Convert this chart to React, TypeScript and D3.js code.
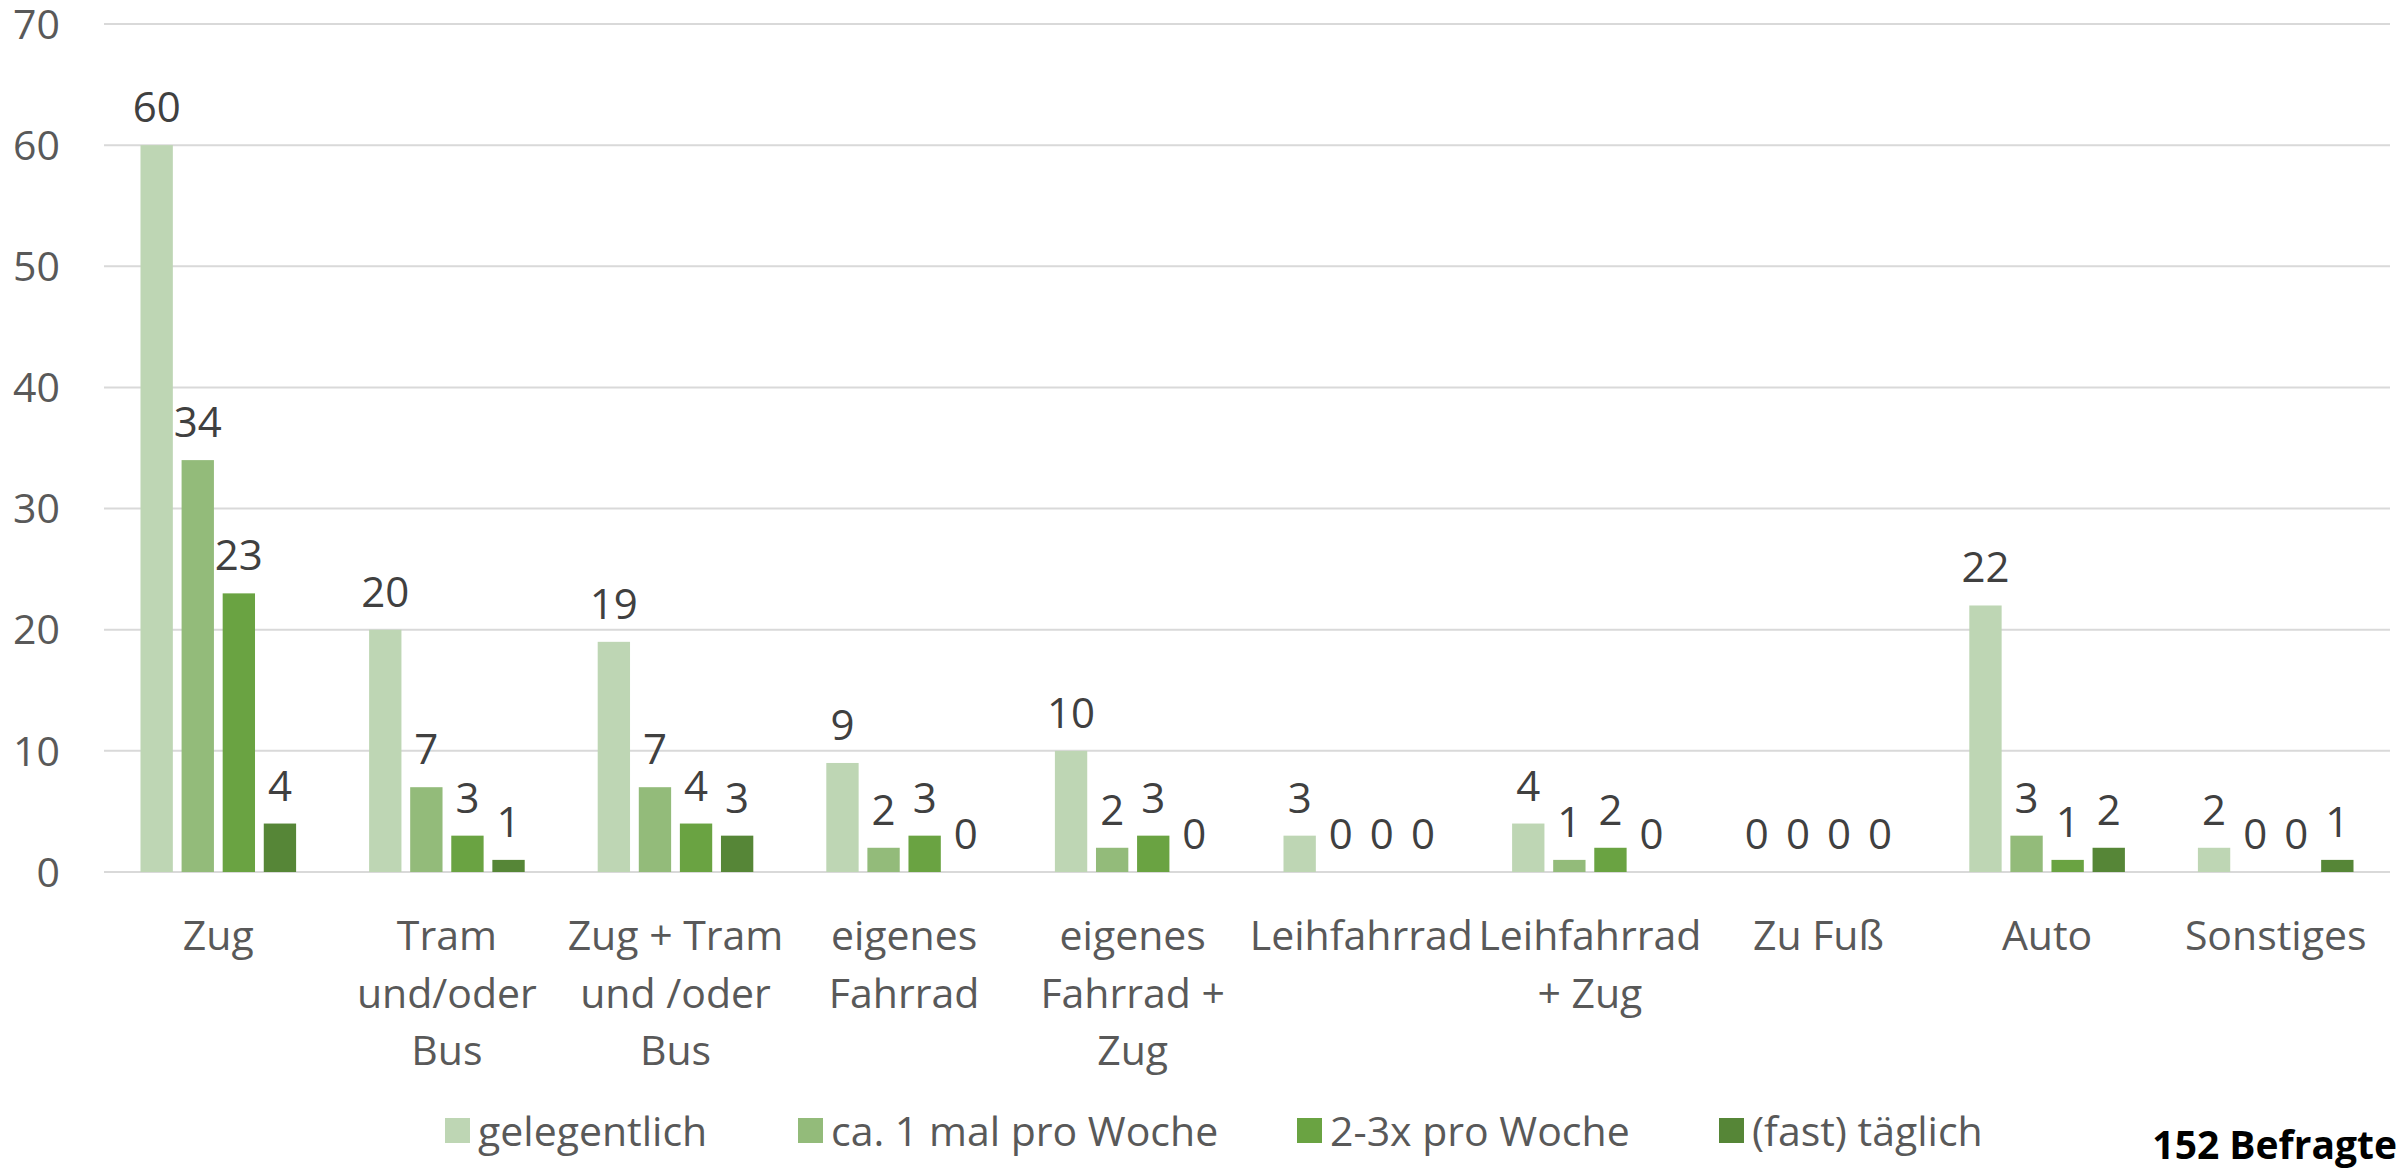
import React from "react";
import * as d3 from "d3";

const categories = [
  ["Zug"],
  ["Tram", "und/oder", "Bus"],
  ["Zug + Tram", "und /oder", "Bus"],
  ["eigenes", "Fahrrad"],
  ["eigenes", "Fahrrad +", "Zug"],
  ["Leihfahrrad"],
  ["Leihfahrrad", "+ Zug"],
  ["Zu Fuß"],
  ["Auto"],
  ["Sonstiges"],
];
const seriesNames = ["gelegentlich", "ca. 1 mal pro Woche", "2-3x pro Woche", "(fast) täglich"];
const gelegentlich = [60, 20, 19, 9, 10, 3, 4, 0, 22, 2];
const einmalProWoche = [34, 7, 7, 2, 2, 0, 1, 0, 3, 0];
const zweiDreiProWoche = [23, 3, 4, 3, 3, 0, 2, 0, 1, 0];
const fastTaeglich = [4, 1, 3, 0, 0, 0, 0, 0, 2, 1];
const yTicks = [0, 10, 20, 30, 40, 50, 60, 70];
const colors = ["#BED6B4", "#93BB7A", "#6AA342", "#568637"];
const note = "152 Befragte";

const W = 2407;
const H = 1170;
const FONT = "'Open Sans', 'Noto Sans', sans-serif";

export default function App() {
  const series = [gelegentlich, einmalProWoche, zweiDreiProWoche, fastTaeglich];
  const left = 104;
  const right = 2390;
  const x0 = d3.scaleBand<number>().domain(d3.range(categories.length)).range([left, right]).padding(0);
  const gw = x0.bandwidth();
  const x1 = d3
    .scaleBand<number>()
    .domain(d3.range(series.length))
    .range([36.5, gw - 36.5])
    .paddingInner(0.213)
    .paddingOuter(0);
  const y = d3.scaleLinear().domain([0, 70]).range([872, 24]);

  const legendX = [445, 798, 1297, 1719];

  return (
    <svg
      width={W}
      height={H}
      style={{ position: "absolute", left: 0, top: 0, display: "block", background: "#fff" }}
      fontFamily={FONT}
    >
      {yTicks.map((t) => (
        <g key={t}>
          <line x1={left} x2={right} y1={y(t)} y2={y(t)} stroke="#D9D9D9" strokeWidth={2} />
          <text x={60} y={y(t)} dy="0.36em" textAnchor="end" fontSize={41} fill="#595959">
            {t}
          </text>
        </g>
      ))}
      {categories.map((lines, ci) => (
        <g key={ci} transform={`translate(${x0(ci)},0)`}>
          {series.map((s, si) => {
            const v = s[ci];
            const bx = x1(si)!;
            const bw = x1.bandwidth();
            return (
              <g key={si}>
                {v > 0 && (
                  <rect x={bx} y={y(v)} width={bw} height={y(0) - y(v)} fill={colors[si]} />
                )}
                <text
                  x={bx + bw / 2}
                  y={y(v) - 23}
                  textAnchor="middle"
                  fontSize={42}
                  fill="#404040"
                >
                  {v}
                </text>
              </g>
            );
          })}
          {lines.map((ln, li) => (
            <text
              key={li}
              x={gw / 2}
              y={950 + li * 57.6}
              textAnchor="middle"
              fontSize={41}
              fill="#595959"
            >
              {ln}
            </text>
          ))}
        </g>
      ))}
      {seriesNames.map((n, i) => (
        <g key={n}>
          <rect x={legendX[i]} y={1118} width={25} height={25} fill={colors[i]} />
          <text x={legendX[i] + 33} y={1131} dy="0.36em" fontSize={41} fill="#595959">
            {n}
          </text>
        </g>
      ))}
      <text x={2397} y={1159} textAnchor="end" fontSize={39} fontWeight="bold" fill="#000">
        {note}
      </text>
    </svg>
  );
}
